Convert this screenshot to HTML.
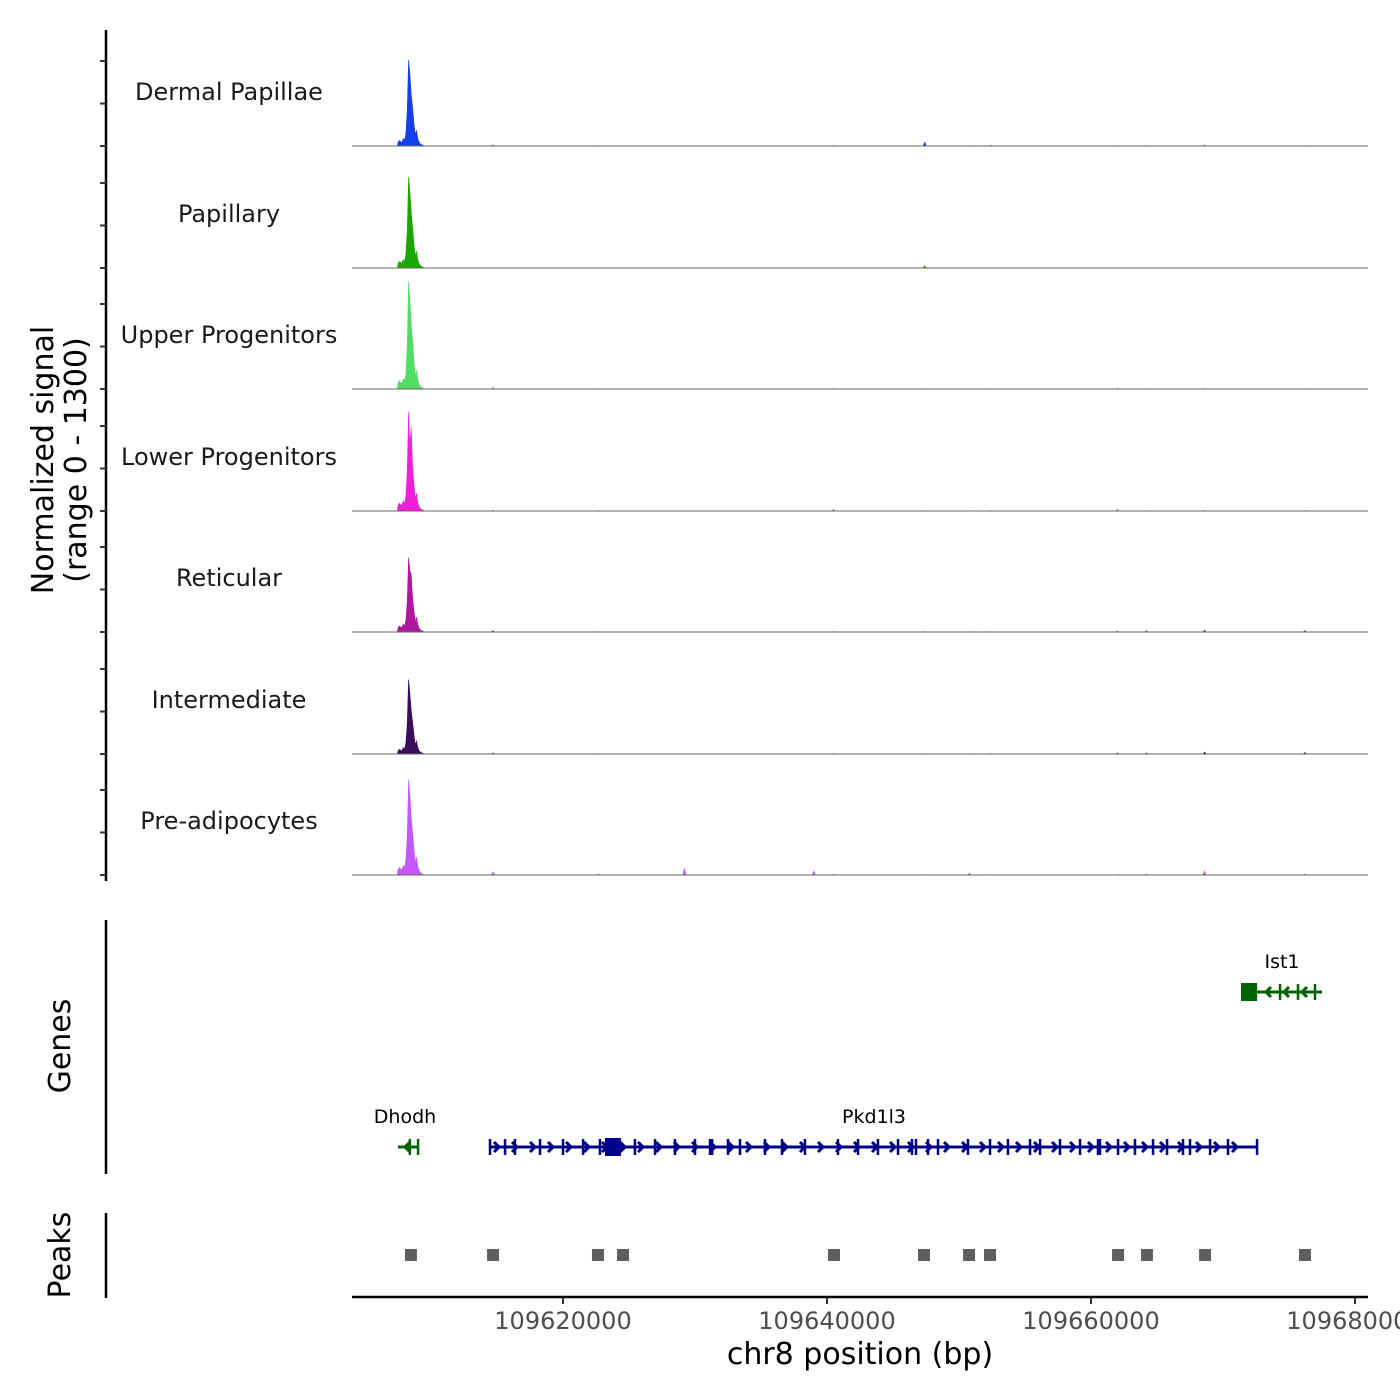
<!DOCTYPE html>
<html><head><meta charset="utf-8"><style>
html,body{margin:0;padding:0;background:#fff;}
svg{display:block;font-family:"DejaVu Sans","Liberation Sans",sans-serif;}
</style></head><body>
<svg id="chart" width="1400" height="1400" viewBox="0 0 1400 1400">
<g id="tracks"></g>
<g id="genes"></g>
<g id="peaks"></g>
<g id="axes"></g>
<text x="0" y="0" transform="translate(53,460) rotate(-90)" text-anchor="middle" font-size="30" fill="#000">Normalized signal</text>
<text x="0" y="0" transform="translate(86,460) rotate(-90)" text-anchor="middle" font-size="30" fill="#000">(range 0 - 1300)</text>
<text x="0" y="0" transform="translate(70,1046) rotate(-90)" text-anchor="middle" font-size="30" fill="#000">Genes</text>
<text x="0" y="0" transform="translate(70,1255) rotate(-90)" text-anchor="middle" font-size="30" fill="#000">Peaks</text>
<text x="860" y="1364" text-anchor="middle" font-size="30" fill="#000">chr8 position (bp)</text>
</svg>
<script>
// ---- data (positions in kb offset from 109,000,000) ----
const trackNames = ["Dermal Papillae","Papillary","Upper Progenitors","Lower Progenitors","Reticular","Intermediate","Pre-adipocytes"];
const trackColors = ["#1440e6","#1aa800","#52dc66","#f01ed8","#b0169e","#3a0c5c","#c457fa"];
const peakBins = [607.5,607.6,607.7,607.8,607.9,608.0,608.1,608.2,608.3,608.4,608.5,608.6,608.7,608.8,608.9,609.0,609.1,609.2,609.3,609.4];
const sigDermal = [40,60,45,40,80,60,140,380,925,780,560,420,260,120,170,80,40,20,15,8];
const sigPapillary = [45,70,60,50,90,70,150,400,980,820,600,450,280,130,180,90,45,25,15,8];
const sigUpper = [60,90,70,60,110,90,170,470,1150,960,700,520,320,140,200,100,50,25,15,8];
const sigLower = [55,85,65,60,110,80,160,430,1065,700,900,480,300,130,190,90,45,25,15,8];
const sigReticular = [45,65,55,50,85,65,130,330,800,660,620,380,240,110,160,80,40,20,15,8];
const sigIntermediate = [30,50,40,35,70,50,120,330,800,650,470,350,220,100,140,70,35,20,12,6];
const sigPreadipo = [55,80,65,55,100,80,160,420,1020,850,620,460,290,130,190,90,45,25,15,8];
const trackSignals = [sigDermal,sigPapillary,sigUpper,sigLower,sigReticular,sigIntermediate,sigPreadipo];
const blipPos = [614.7,622.7,640.5,647.4,650.8,652.4,662.0,664.2,668.6,676.2,629.2,639.0];
const blipDermal = [15,8,10,50,8,12,8,10,15,8,0,0];
const blipPapillary = [10,6,8,30,6,8,6,8,10,6,0,0];
const blipUpper = [25,8,12,10,6,8,15,10,12,8,0,0];
const blipLower = [12,10,20,10,8,10,20,10,12,10,0,0];
const blipReticular = [20,8,10,10,8,8,15,18,25,20,0,0];
const blipIntermediate = [15,8,10,8,8,10,15,15,25,20,0,0];
const blipPreadipo = [40,15,12,10,25,10,12,15,50,15,80,50];
const trackBlips = [blipDermal,blipPapillary,blipUpper,blipLower,blipReticular,blipIntermediate,blipPreadipo];
const xTicks = [620,640,660,680];
const xTickLabels = ["109620000","109640000","109660000","109680000"];
const peakRegions = [608.48,614.7,622.65,624.55,640.53,647.35,650.76,652.35,662.05,664.24,668.64,676.21];
const pkdStart = 614.47, pkdEnd = 672.58;
const pkdExons = [614.47,615.61,616.36,618.26,620,621.52,622.8,625.45,626.97,628.48,630,631.14,631.3,632.5,633.41,635.3,636.59,638.33,640.83,642.35,643.86,645.38,646.44,646.74,647.65,648.41,650.68,652.35,653.71,655.38,656.14,657.65,659.17,660.53,660.68,662.05,663.33,664.7,665.76,666.97,667.5,669.02,670.38,672.58];
const pkdBox = [623.18,624.39];
const dhodh = [607.5,609.02];
const ist1 = [671.36,677.5];
const ist1Box = [671.36,672.58];
const ist1Exons = [674.32,675.68,676.97];
const yMax = 1300;

const NS="http://www.w3.org/2000/svg";
function el(tag,attrs,parent){const e=document.createElementNS(NS,tag);for(const k in attrs)e.setAttribute(k,attrs[k]);parent.appendChild(e);return e;}
const X = kb => 563 + (kb-620)*13.2;
const baselines=[146,268,389,511,632,754,875];
const panelH=121;
const Y = (v,b) => b - v/yMax*panelH;
const tracks=document.getElementById('tracks');
trackNames.forEach((name,i)=>{
  const b=baselines[i], col=trackColors[i], sig=trackSignals[i];
  const g=el('g',{},tracks);
  
  
  let d='M'+X(peakBins[0]-0.05)+','+b;
  peakBins.forEach((p,j)=>{d+=' L'+X(p)+','+Y(sig[j],b);});
  d+=' L'+X(peakBins[peakBins.length-1]+0.05)+','+b+' Z';
  const a=el('path',{d:d,fill:col,stroke:col,'stroke-width':0.6},g);
  
  
  trackBlips[i].forEach((v,j)=>{
    if(!v)return;
    const x=X(blipPos[j]);
    const p=el('path',{d:`M${x-2},${b} L${x},${Y(v,b)} L${x+2},${b} Z`,fill:col},g);
    
    
  });
  const ln=el('line',{x1:352,x2:1368,y1:b,y2:b,stroke:'#666','stroke-width':1},g);
  
  
  const t=el('text',{x:229,y:b-46,'text-anchor':'middle','font-size':24,fill:'#1a1a1a'},g);
  t.textContent=name;
  
  
});
// axes
const axes=document.getElementById('axes');
function ln(x1,y1,x2,y2,w,name,col){const l=el('line',{x1,y1,x2,y2,stroke:col||'#000','stroke-width':w},axes);return l;}
ln(106,30,106,881,2.5,'y-axis-line');
baselines.forEach(b=>{[0,42.5,85].forEach(o=>ln(100,b-o,106,b-o,2,'y-tick','#333'));});
ln(106,920,106,1174,2.5,'genes-axis-line');
ln(106,1213,106,1298,2.5,'peaks-axis-line');
ln(352,1297,1368,1297,2.5,'x-axis-line');
xTicks.forEach((t,i)=>{
  ln(X(t),1297,X(t),1304,2,'x-tick','#333');
  const tx=el('text',{x:X(t),y:1329,'text-anchor':'middle','font-size':24,fill:'#4d4d4d'},axes);
  tx.textContent=xTickLabels[i];
  
  
});
// genes
const genes=document.getElementById('genes');
function gene(name,range,box,exons,y,col,dir,labelX){
  const g=el('g',{},genes);
  
  
  el('line',{x1:X(range[0]),x2:X(range[1]),y1:y,y2:y,stroke:col,'stroke-width':3},g);
  exons.forEach(e=>el('line',{x1:X(e),x2:X(e),y1:y-8,y2:y+8,stroke:col,'stroke-width':2.5},g));
  if(box)el('rect',{x:X(box[0]),y:y-9,width:X(box[1])-X(box[0]),height:18,fill:col},g);
  const x0=X(range[0]),x1=X(range[1]);
  for(let x=x0+8;x<x1-4;x+=18){
    const p=dir>0?`M${x-4},${y-5} L${x+1},${y} L${x-4},${y+5}`:`M${x+4},${y-5} L${x-1},${y} L${x+4},${y+5}`;
    el('path',{d:p,fill:'none',stroke:col,'stroke-width':3},g);
  }
  const t=el('text',{x:labelX,y:y-24,'text-anchor':'middle','font-size':19,fill:'#000'},g);
  t.textContent=name;
}
gene('Dhodh',dhodh,null,[dhodh[0]+0.9,dhodh[1]],1147,'#006400',-1,405);
gene('Pkd1l3',[pkdStart,pkdEnd],pkdBox,pkdExons,1147,'#00008b',1,874);
gene('Ist1',ist1,ist1Box,ist1Exons,992,'#006400',-1,1282);
// peaks
const peaks=document.getElementById('peaks');
peakRegions.forEach(p=>{
  const r=el('rect',{x:X(p)-6,y:1249,width:12,height:12,fill:'#5f5f5f'},peaks);
  
  
});
</script>
</body></html>
